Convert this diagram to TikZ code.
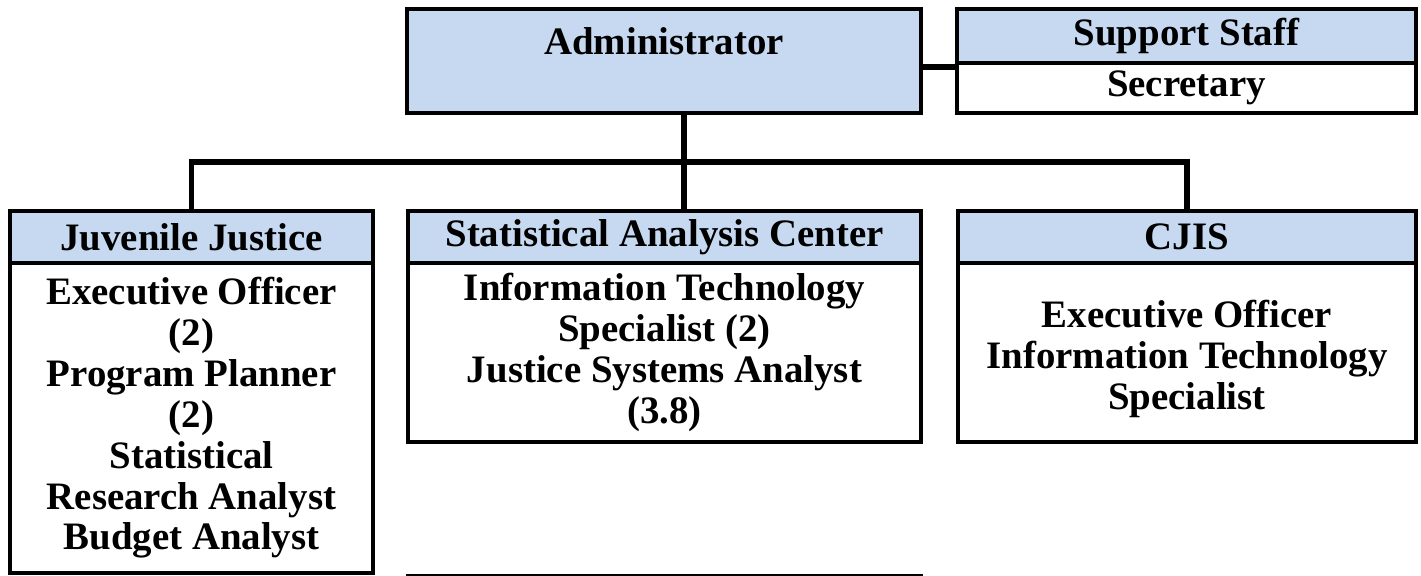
\documentclass[tikz,border=0pt]{standalone}
\usepackage{fontspec}
\setmainfont{Liberation Serif}
\definecolor{headblue}{HTML}{C6D9F1}

\begin{document}
\begin{tikzpicture}[x=0.5bp, y=-0.5bp,
    box/.style={draw=black, line width=1.75bp, inner sep=0pt, align=center,
        font=\bfseries\fontsize{19.5}{20.5}\selectfont},
    head/.style={box, fill=headblue},
    body/.style={box, fill=white},
    link/.style={line width=2.6bp}]
    \useasboundingbox (0,0) rectangle (1421,576);
    % Top
    \node[head, minimum width=257bp, minimum height=52bp] (admin) at (664,61)
        {Administrator\\\mbox{}};
    \node[head, minimum width=229.5bp, minimum height=27bp] (support) at (1186.5,36) {Support Staff};
    \node[body, minimum width=229.5bp, minimum height=25bp] (secretary) at (1186.5,88) {Secretary};
    % Division heads
    \foreach \name/\x/\w/\i in {Juvenile Justice/191.5/363/juv,
        Statistical Analysis Center/664.5/513/sac, CJIS/1187/458/cjis} {
        \node[head, minimum width=\w*0.5bp, minimum height=26bp] (\i-head) at (\x,237) {\name};
    }
    % Division staff
    \node[body, minimum width=181.5bp, minimum height=155bp] (juv-body) at (191.5,418)
        {Executive Officer\\(2)\\Program Planner\\(2)\\Statistical\\Research Analyst\\Budget Analyst};
    \node[body, minimum width=256.5bp, minimum height=89.5bp] (sac-body) at (664.5,352.5)
        {Information Technology\\Specialist (2)\\Justice Systems Analyst\\(3.8)};
    \node[body, minimum width=229bp, minimum height=89.5bp] (cjis-body) at (1187,352.5)
        {\mbox{}\\Executive Officer\\Information Technology\\Specialist};
    % Links
    \coordinate (hub) at (684,162);
    \draw[link] ([yshift=-3bp]admin.east) -- ([yshift=-3bp]admin.east -| support.west);
    \draw[link] (admin.south -| hub) -- (hub |- sac-head.north);
    \draw[link] (juv-head.north) |- (hub) -| (cjis-head.north);
    \draw[line width=1bp] (sac-body.west |- juv-body.south) -- (sac-body.east |- juv-body.south);
\end{tikzpicture}
\end{document}
